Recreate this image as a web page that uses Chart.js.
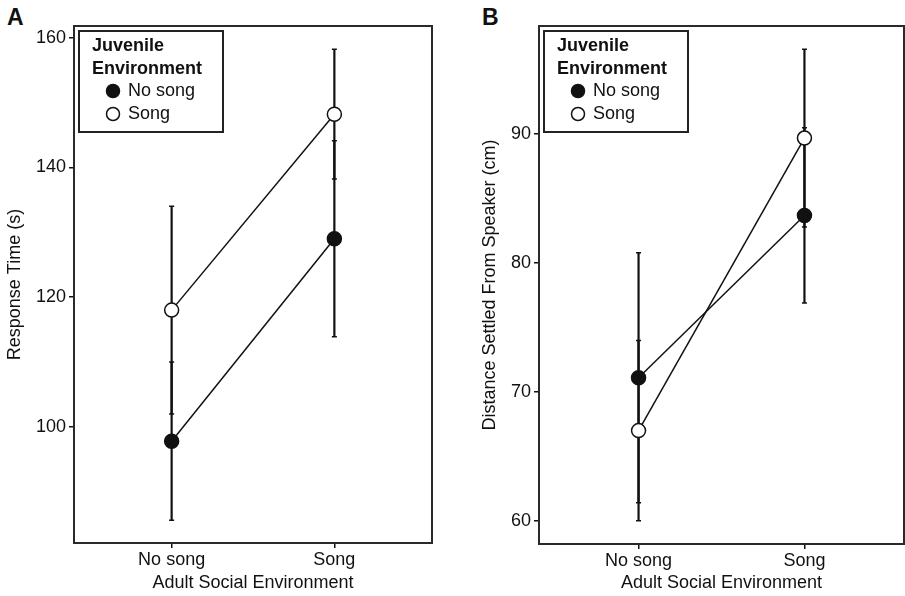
<!DOCTYPE html>
<html><head><meta charset="utf-8">
<title>Juvenile and adult song environment</title>
<script src="https://cdn.jsdelivr.net/npm/chart.js"></script>
<style>
    body {
        margin: 0;
        width: 905px;
        height: 596px;
        background: #fff;
        position: relative;
        overflow: hidden;
        font-family: "Liberation Sans", Arial, sans-serif;
    }
    .panel {
        position: absolute;
        top: 0;
        height: 596px;
    }
    #panelA { left: 0; width: 440px; }
    #panelB { left: 475px; width: 430px; }
    .tag {
        position: absolute;
        top: 4px;
        font-weight: bold;
        font-size: 23px;
        color: #111;
    }
</style>
</head>
<body>
    <div class="tag" style="left:7px">A</div>
    <div class="tag" style="left:482px">B</div>
    <div class="panel" id="panelA"><canvas id="chartA"></canvas></div>
    <div class="panel" id="panelB"><canvas id="chartB"></canvas></div>

    <script>
    // categories on the x axis (adult social environment)
    const adultEnv = ['No song', 'Song'];
    // legend (juvenile environment)
    const legendTitle = ['Juvenile', 'Environment'];
    const juvenileEnv = ['No song', 'Song'];

    // panel A: response time (s), means and error half-widths
    const respNoSong = [97.8, 129.0];
    const respNoSongErr = [12.2, 15.1];
    const respSong = [118.0, 148.2];
    const respSongErr = [16.0, 10.0];
    const respTicks = [100, 120, 140, 160];

    // panel B: distance settled from speaker (cm)
    const distNoSong = [71.1, 83.7];
    const distNoSongErr = [9.7, 6.8];
    const distSong = [67.0, 89.7];
    const distSongErr = [7.0, 6.9];
    const distTicks = [60, 70, 80, 90];

    const FONT = '"Liberation Sans", Arial, sans-serif';
    const INK = '#111';

    // frame round the plot area plus the error bars (under the markers)
    const errorBars = {
        id: 'errorBars',
        beforeDatasetsDraw(chart) {
            const {ctx, chartArea, scales} = chart;
            ctx.save();
            chart.data.datasets.forEach(ds => {
                ds.data.forEach((p, i) => {
                    const x = scales.x.getPixelForValue(p.x);
                    const top = scales.y.getPixelForValue(p.y + ds.errors[i]);
                    const bot = scales.y.getPixelForValue(p.y - ds.errors[i]);
                    ctx.strokeStyle = INK;
                    ctx.lineWidth = 2.2;
                    ctx.beginPath();
                    ctx.moveTo(x, top);
                    ctx.lineTo(x, bot);
                    ctx.stroke();
                    ctx.lineWidth = 1.5;
                    ctx.beginPath();
                    ctx.moveTo(x - 2.5, top);
                    ctx.lineTo(x + 2.5, top);
                    ctx.moveTo(x - 2.5, bot);
                    ctx.lineTo(x + 2.5, bot);
                    ctx.stroke();
                });
            });
            ctx.strokeStyle = '#2a2a2a';
            ctx.lineWidth = 2;
            ctx.strokeRect(chartArea.left, chartArea.top, chartArea.right - chartArea.left, chartArea.bottom - chartArea.top);
            ctx.restore();
        }
    };

    // boxed legend in the top left corner of the plot
    const boxLegend = {
        id: 'boxLegend',
        afterDraw(chart) {
            const {ctx, chartArea} = chart;
            const x = chartArea.left + 5, y = chartArea.top + 5, w = 144, h = 101;
            ctx.save();
            ctx.fillStyle = '#fff';
            ctx.fillRect(x, y, w, h);
            ctx.strokeStyle = '#222';
            ctx.lineWidth = 2;
            ctx.strokeRect(x, y, w, h);
            ctx.fillStyle = INK;
            ctx.textAlign = 'left';
            ctx.textBaseline = 'middle';
            ctx.font = 'bold 18px ' + FONT;
            legendTitle.forEach((t, i) => ctx.fillText(t, x + 13, y + 15 + i * 23));
            ctx.font = '18px ' + FONT;
            chart.data.datasets.forEach((ds, i) => {
                const cy = y + 60 + i * 23;
                ctx.beginPath();
                ctx.arc(x + 34, cy, 6.5, 0, Math.PI * 2);
                ctx.fillStyle = ds.backgroundColor;
                ctx.fill();
                ctx.lineWidth = 1.5;
                ctx.strokeStyle = ds.borderColor;
                ctx.stroke();
                ctx.fillStyle = INK;
                ctx.fillText(ds.label, x + 49, cy);
            });
            ctx.restore();
        }
    };

    function makePanel(id, o) {
        const series = (vals, errs, fill, label) => ({
            label: label,
            data: vals.map((v, i) => ({x: i, y: v})),
            errors: errs,
            borderColor: INK,
            backgroundColor: fill,
            pointBackgroundColor: fill,
            pointBorderColor: INK,
            pointBorderWidth: 1.5,
            pointRadius: 7,
            borderWidth: 1.5,
            tension: 0
        });
        return new Chart(document.getElementById(id), {
            type: 'line',
            data: {
                datasets: [
                    series(o.noSong, o.noSongErr, INK, juvenileEnv[0]),
                    series(o.song, o.songErr, '#fff', juvenileEnv[1])
                ]
            },
            options: {
                responsive: true,
                maintainAspectRatio: false,
                animation: false,
                layout: {autoPadding: false, padding: {top: 26, right: o.padRight, bottom: 0, left: 0}},
                plugins: {legend: {display: false}, tooltip: {enabled: false}},
                scales: {
                    x: {
                        type: 'linear',
                        min: -0.6,
                        max: 1.6,
                        afterBuildTicks: s => { s.ticks = adultEnv.map((c, i) => ({value: i})); },
                        afterFit: s => { s.height = o.xHeight; },
                        ticks: {
                            callback: v => adultEnv[v],
                            color: INK,
                            font: {family: FONT, size: 18},
                            padding: 1,
                            maxRotation: 0
                        },
                        grid: {drawOnChartArea: false, tickLength: 5, color: INK, lineWidth: 1.5},
                        border: {display: false},
                        title: {
                            display: true,
                            text: 'Adult Social Environment',
                            color: INK,
                            font: {family: FONT, size: 18},
                            padding: {top: 0, bottom: 2}
                        }
                    },
                    y: {
                        min: o.yMin,
                        max: o.yMax,
                        afterBuildTicks: s => { s.ticks = o.yTicks.map(v => ({value: v})); },
                        afterFit: s => { s.width = o.yWidth; },
                        ticks: {
                            color: INK,
                            font: {family: FONT, size: 18},
                            padding: 3
                        },
                        grid: {drawOnChartArea: false, tickLength: 5, color: INK, lineWidth: 1.5},
                        border: {display: false},
                        title: {
                            display: true,
                            text: o.yTitle,
                            color: INK,
                            font: {family: FONT, size: 18},
                            padding: {top: 4, bottom: 0}
                        }
                    }
                }
            },
            plugins: [errorBars, boxLegend]
        });
    }

    makePanel('chartA', {
        noSong: respNoSong, noSongErr: respNoSongErr,
        song: respSong, songErr: respSongErr,
        yTicks: respTicks, yMin: 82.1, yMax: 161.8,
        yTitle: 'Response Time (s)',
        yWidth: 74, xHeight: 53, padRight: 8
    });

    makePanel('chartB', {
        noSong: distNoSong, noSongErr: distNoSongErr,
        song: distSong, songErr: distSongErr,
        yTicks: distTicks, yMin: 58.2, yMax: 98.4,
        yTitle: 'Distance Settled From Speaker (cm)',
        yWidth: 64, xHeight: 52, padRight: 1
    });
    </script>
</body>
</html>
